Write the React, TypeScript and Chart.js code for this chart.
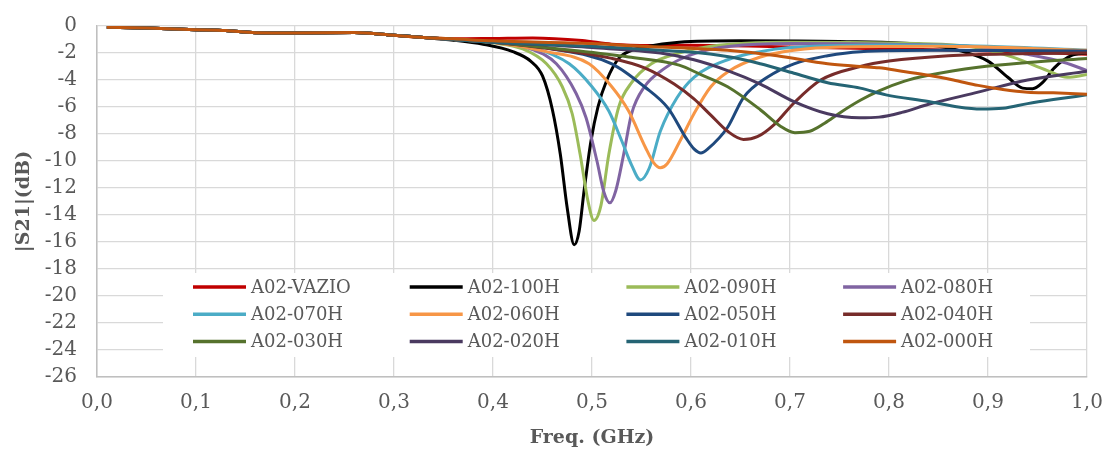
import React, { useEffect, useRef } from "react";
import { Chart, registerables } from "chart.js";

Chart.register(...registerables);

type Pt = [number, number];

const seriesNames = [
  "A02-VAZIO", "A02-100H", "A02-090H", "A02-080H",
  "A02-070H", "A02-060H", "A02-050H", "A02-040H",
  "A02-030H", "A02-020H", "A02-010H", "A02-000H",
];

const seriesColors = [
  "#C00000", "#000000", "#9BBB59", "#8064A2",
  "#4BACC6", "#F79646", "#1F497D", "#772C2A",
  "#56722D", "#4A3A60", "#256474", "#C0560F",
];

// shared low-frequency part (all curves overlap here)
const commonStart: Pt[] = [
  [0.01, -0.1], [0.05, -0.15], [0.1, -0.27], [0.13, -0.33], [0.16, -0.5],
  [0.2, -0.52], [0.26, -0.48], [0.3, -0.68], [0.33, -0.85],
];

const vazio: Pt[] = [
  [0.36, -0.95], [0.4, -0.92], [0.44, -0.88], [0.49, -1.08], [0.52, -1.35],
  [0.56, -1.45], [0.6, -1.42], [0.7, -1.55], [0.8, -1.7], [0.9, -1.85],
  [0.95, -1.95], [1.0, -2.1],
];
const h100: Pt[] = [
  [0.36, -1.05], [0.39, -1.35], [0.42, -1.9], [0.438, -2.6], [0.45, -3.7],
  [0.46, -6.2], [0.468, -9.5], [0.475, -13.5], [0.482, -16.2], [0.487, -15.2],
  [0.492, -12.2], [0.499, -8.5], [0.506, -6.0], [0.515, -4.0], [0.527, -2.4],
  [0.54, -1.8], [0.553, -1.55], [0.588, -1.2], [0.65, -1.1], [0.75, -1.15],
  [0.85, -1.5], [0.875, -1.9], [0.9, -2.6], [0.92, -3.8], [0.935, -4.6],
  [0.945, -4.65], [0.955, -4.2], [0.967, -3.1], [0.984, -2.2], [1.0, -2.0],
];
const h090: Pt[] = [
  [0.36, -1.0], [0.4, -1.25], [0.43, -1.7], [0.454, -2.8], [0.47, -4.5],
  [0.48, -6.5], [0.488, -9.5], [0.496, -13.0], [0.502, -14.4], [0.509, -13.3],
  [0.517, -9.5], [0.527, -6.0], [0.54, -4.2], [0.56, -2.8], [0.588, -2.0],
  [0.62, -1.5], [0.7, -1.2], [0.8, -1.25], [0.88, -1.5], [0.9, -1.8],
  [0.925, -2.3], [0.96, -3.3], [0.98, -3.8], [1.0, -3.6],
];
const h080: Pt[] = [
  [0.36, -1.0], [0.4, -1.2], [0.44, -1.75], [0.464, -2.8], [0.484, -5.0],
  [0.494, -6.8], [0.505, -10.0], [0.512, -12.3], [0.518, -13.1], [0.524, -12.2],
  [0.532, -9.5], [0.54, -6.5], [0.553, -4.5], [0.574, -3.1], [0.588, -2.5],
  [0.61, -1.9], [0.64, -1.5], [0.7, -1.3], [0.8, -1.35], [0.9, -1.6],
  [0.94, -2.1], [0.977, -2.7], [1.0, -3.3],
];
const h070: Pt[] = [
  [0.36, -1.0], [0.4, -1.2], [0.44, -1.6], [0.477, -2.8], [0.5, -4.5],
  [0.517, -6.3], [0.53, -8.5], [0.54, -10.3], [0.549, -11.4], [0.558, -10.5],
  [0.569, -7.8], [0.586, -5.3], [0.603, -3.8], [0.637, -2.5], [0.67, -1.9],
  [0.7, -1.6], [0.8, -1.4], [0.9, -1.5], [1.0, -1.8],
];
const h060: Pt[] = [
  [0.36, -1.0], [0.4, -1.2], [0.454, -1.9], [0.497, -2.8], [0.52, -4.5],
  [0.537, -6.3], [0.554, -9.0], [0.562, -10.1], [0.569, -10.5], [0.576, -10.2],
  [0.589, -8.5], [0.603, -6.5], [0.62, -4.5], [0.637, -3.4], [0.67, -2.3],
  [0.704, -1.8], [0.75, -1.55], [0.85, -1.5], [1.0, -1.8],
];
const h050: Pt[] = [
  [0.36, -1.0], [0.4, -1.2], [0.46, -1.7], [0.52, -2.8], [0.553, -4.5],
  [0.577, -6.1], [0.595, -8.3], [0.603, -9.1], [0.61, -9.4], [0.617, -9.1],
  [0.637, -7.5], [0.653, -5.3], [0.677, -3.8], [0.704, -2.8], [0.738, -2.2],
  [0.771, -1.9], [0.85, -1.8], [1.0, -1.85],
];
const h040: Pt[] = [
  [0.36, -1.0], [0.4, -1.2], [0.47, -1.8], [0.52, -2.4], [0.553, -3.1],
  [0.583, -4.3], [0.603, -5.4], [0.62, -6.6], [0.637, -7.8], [0.653, -8.4],
  [0.667, -8.2], [0.684, -7.3], [0.704, -5.7], [0.731, -4.0], [0.771, -3.0],
  [0.8, -2.6], [0.86, -2.2], [0.93, -2.05], [1.0, -2.0],
];
const h030: Pt[] = [
  [0.36, -1.0], [0.4, -1.2], [0.48, -1.8], [0.537, -2.3], [0.588, -2.9],
  [0.61, -3.6], [0.637, -4.5], [0.67, -6.2], [0.69, -7.4], [0.705, -7.9],
  [0.72, -7.8], [0.735, -7.2], [0.751, -6.4], [0.771, -5.5], [0.79, -4.8],
  [0.815, -4.1], [0.84, -3.65], [0.89, -3.05], [0.94, -2.7], [1.0, -2.4],
];
const h020: Pt[] = [
  [0.36, -1.0], [0.4, -1.2], [0.5, -1.6], [0.569, -2.0], [0.603, -2.5],
  [0.637, -3.3], [0.67, -4.3], [0.704, -5.6], [0.738, -6.5], [0.77, -6.8],
  [0.79, -6.75], [0.813, -6.4], [0.84, -5.8], [0.89, -4.9], [0.94, -4.0],
  [1.0, -3.35],
];
const h010: Pt[] = [
  [0.36, -1.0], [0.4, -1.2], [0.5, -1.5], [0.569, -1.8], [0.61, -2.0],
  [0.644, -2.35], [0.67, -2.8], [0.704, -3.5], [0.738, -4.2], [0.771, -4.6],
  [0.797, -5.1], [0.84, -5.6], [0.87, -6.0], [0.893, -6.15], [0.915, -6.1],
  [0.94, -5.75], [0.966, -5.45], [1.0, -5.1],
];
const h000: Pt[] = [
  [0.36, -0.95], [0.4, -1.1], [0.5, -1.3], [0.55, -1.5], [0.6, -1.65],
  [0.637, -1.8], [0.687, -2.2], [0.738, -2.8], [0.771, -3.0], [0.79, -3.1],
  [0.813, -3.35], [0.84, -3.65], [0.865, -4.0], [0.89, -4.4], [0.915, -4.7],
  [0.94, -4.9], [0.966, -4.95], [1.0, -5.05],
];

const seriesPoints: Pt[][] = [
  vazio, h100, h090, h080, h070, h060, h050, h040, h030, h020, h010, h000,
];

const yMin = -26;
const yMax = 0;
const yStep = 2;
const xMin = 0;
const xMax = 1;
const xStep = 0.1;

const FONT = "'DejaVu Serif', 'Liberation Serif', serif";
const TEXT = "#595959";

const insideLegend = {
  id: "insideLegend",
  beforeDatasetsDraw(chart: any) {
    const { ctx, chartArea } = chart;
    const ox = chartArea.left;
    const oy = chartArea.top;
    ctx.save();
    ctx.fillStyle = "#ffffff";
    ctx.fillRect(ox + 66, oy + 247, 867, 84);
    ctx.font = `18px ${FONT}`;
    ctx.textBaseline = "middle";
    ctx.textAlign = "left";
    chart.data.datasets.forEach((ds: any, i: number) => {
      const col = i % 4;
      const row = Math.floor(i / 4);
      const lx = ox + 96 + col * 216.7;
      const ly = oy + 261 + row * 27.3;
      ctx.strokeStyle = ds.borderColor;
      ctx.lineWidth = 3.5;
      ctx.lineCap = "butt";
      ctx.beginPath();
      ctx.moveTo(lx, ly);
      ctx.lineTo(lx + 53, ly);
      ctx.stroke();
      ctx.fillStyle = TEXT;
      ctx.fillText(ds.label, lx + 58, ly + 1);
    });
    ctx.restore();
  },
};

export default function App() {
  const ref = useRef<HTMLCanvasElement | null>(null);

  useEffect(() => {
    if (!ref.current) return;
    const datasets = seriesNames.map((name, i) => ({
      label: name,
      data: [...commonStart, ...seriesPoints[i]].map(([x, y]) => ({ x, y })),
      borderColor: seriesColors[i],
      backgroundColor: seriesColors[i],
      borderWidth: 3,
      pointRadius: 0,
      fill: false,
      cubicInterpolationMode: "monotone" as const,
      order: seriesNames.length - i,
    }));

    const chart = new Chart(ref.current, {
      type: "line",
      data: { datasets },
      plugins: [insideLegend],
      options: {
        animation: false,
        responsive: false,
        maintainAspectRatio: false,
        layout: { padding: { left: 0, right: 19, top: 26, bottom: 0 } },
        plugins: {
          legend: { display: false },
          tooltip: { enabled: false },
        },
        scales: {
          x: {
            type: "linear",
            min: xMin,
            max: xMax,
            ticks: {
              stepSize: xStep,
              autoSkip: false,
              maxRotation: 0,
              color: TEXT,
              font: { family: FONT, size: 20 },
              padding: 14,
              callback: (v: any) => Number(v).toFixed(1).replace(".", ","),
            },
            grid: { color: "#D9D9D9", lineWidth: 1.3, drawTicks: false },
            border: { display: true, color: "#BFBFBF", width: 1.5 },
            title: {
              display: true,
              text: "Freq. (GHz)",
              color: TEXT,
              font: { family: FONT, size: 19, weight: "bold" },
              padding: { top: 0, bottom: 2 },
            },
            afterFit: (s: any) => {
              s.height = 74;
              s.paddingLeft = 0;
              s.paddingRight = 0;
            },
          },
          y: {
            type: "linear",
            min: yMin,
            max: yMax,
            ticks: {
              stepSize: yStep,
              autoSkip: false,
              color: TEXT,
              font: { family: FONT, size: 20 },
              padding: 20,
            },
            grid: { color: "#D9D9D9", lineWidth: 1.3, drawTicks: false },
            border: { display: true, color: "#BFBFBF", width: 1.5 },
            title: {
              display: true,
              text: "|S21|(dB)",
              color: TEXT,
              font: { family: FONT, size: 19, weight: "bold" },
              padding: { top: 13, bottom: 0 },
            },
            afterFit: (s: any) => {
              s.width = 97;
              s.paddingTop = 0;
              s.paddingBottom = 0;
            },
          },
        },
      },
    });
    return () => chart.destroy();
  }, []);

  return (
    <div
      style={{
        position: "fixed",
        left: 0,
        top: 0,
        width: 1106,
        height: 451,
        background: "#ffffff",
      }}
    >
      <canvas
        ref={ref}
        width={1106}
        height={451}
        style={{ display: "block", width: 1106, height: 451 }}
      />
    </div>
  );
}
